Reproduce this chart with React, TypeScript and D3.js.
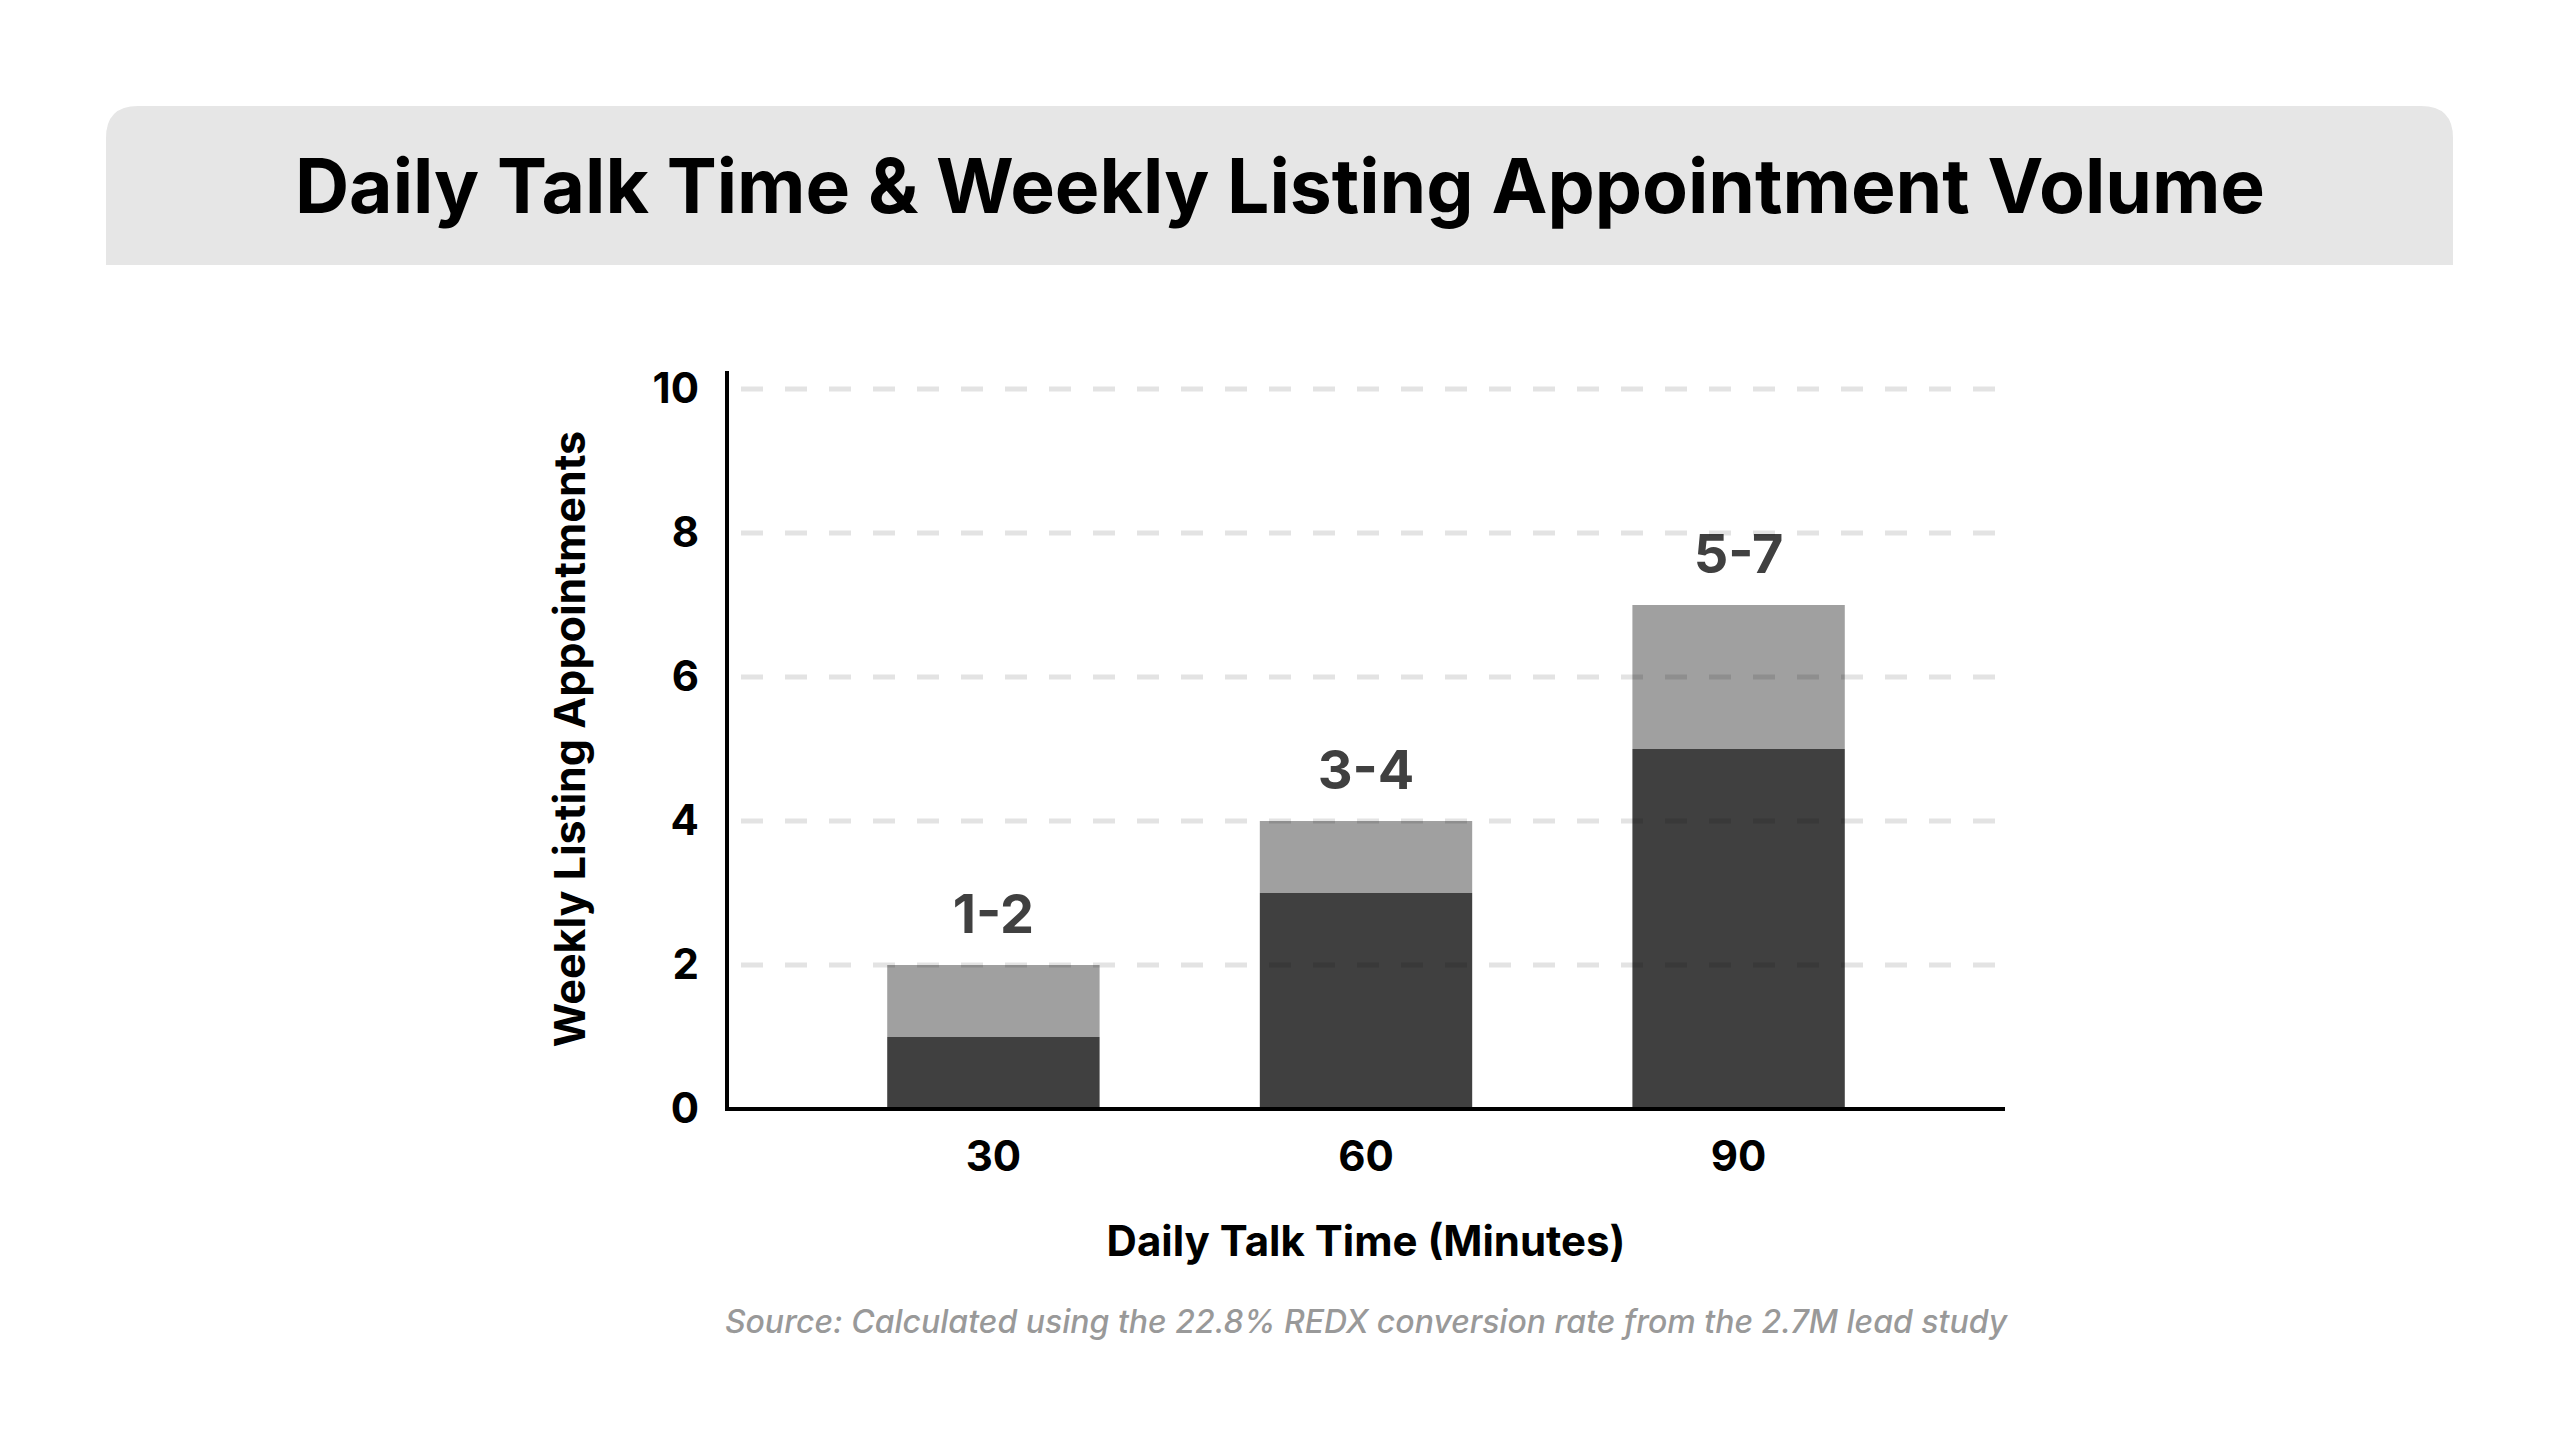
import * as d3 from "d3";
import React, { RefObject, useEffect, useRef } from "react";

const minutes = ["30", "60", "90"];
const lowValues = [1, 3, 5];
const extraValues = [1, 1, 2];
const rangeLabels = ["1-2", "3-4", "5-7"];
const yTicks = [0, 2, 4, 6, 8, 10];

const width = 2560;
const height = 1440;
const font = "Inter, 'Noto Sans', sans-serif";

const App = () => {
  const d3Ref: RefObject<HTMLDivElement> = useRef(null);

  const drawChart = () => {
    document.body.style.margin = "0";
    d3.select(d3Ref.current).selectAll("*").remove();
    const svg = d3
      .select(d3Ref.current)
      .append("svg")
      .attr("width", width)
      .attr("height", height)
      .style("display", "block")
      .style("background", "#ffffff");

    // title band, rounded top corners only
    const bx = 106, by = 106, bw = 2347, bh = 159, r = 32;
    svg
      .append("path")
      .attr(
        "d",
        `M${bx},${by + bh} V${by + r} Q${bx},${by} ${bx + r},${by} H${bx + bw - r} Q${bx + bw},${by} ${bx + bw},${by + r} V${by + bh} Z`
      )
      .attr("fill", "#e6e6e6");
    svg
      .append("text")
      .attr("x", width / 2)
      .attr("y", 213)
      .attr("text-anchor", "middle")
      .attr("font-family", font)
      .attr("font-weight", 700)
      .attr("font-size", 75)
      .attr("fill", "#000")
      .text("Daily Talk Time & Weekly Listing Appointment Volume");

    const left = 727, right = 2005, top = 389, bottom = 1109;
    const xScale = d3
      .scaleBand<string>()
      .domain(minutes)
      .range([left, right])
      .paddingInner(0.43)
      .paddingOuter(0.43);
    const yScale = d3.scaleLinear().domain([0, 10]).range([bottom, top]);

    const g = svg.append("g");

    // bars
    minutes.forEach((m, i) => {
      const x = xScale(m) as number;
      g.append("rect")
        .attr("x", x)
        .attr("width", xScale.bandwidth())
        .attr("y", yScale(lowValues[i]))
        .attr("height", yScale(0) - yScale(lowValues[i]))
        .attr("fill", "#404040");
      const total = lowValues[i] + extraValues[i];
      g.append("rect")
        .attr("x", x)
        .attr("width", xScale.bandwidth())
        .attr("y", yScale(total))
        .attr("height", yScale(lowValues[i]) - yScale(total))
        .attr("fill", "#a0a0a0");
      g.append("text")
        .attr("x", x + xScale.bandwidth() / 2)
        .attr("y", yScale(total) - 32)
        .attr("text-anchor", "middle")
        .attr("font-family", font)
        .attr("font-weight", 700)
        .attr("font-size", 54)
        .attr("fill", "#404040")
        .text(rangeLabels[i]);
    });

    // dashed grid over bars
    g.selectAll("line.grid")
      .data(yTicks.filter((t) => t > 0))
      .enter()
      .append("line")
      .attr("class", "grid")
      .attr("x1", left + 14)
      .attr("x2", right)
      .attr("y1", (d) => yScale(d))
      .attr("y2", (d) => yScale(d))
      .attr("stroke", "#000")
      .attr("stroke-opacity", 0.11)
      .attr("stroke-width", 5)
      .attr("stroke-dasharray", "22,22");

    // y axis
    const yAxis = g
      .append("g")
      .attr("transform", `translate(${left},0)`)
      .call(d3.axisLeft(yScale).tickValues(yTicks).tickSize(0).tickPadding(28));
    yAxis.select(".domain").remove();
    yAxis
      .selectAll("text")
      .attr("font-family", font)
      .attr("font-weight", 700)
      .attr("font-size", 42)
      .attr("fill", "#000");
    g.append("line")
      .attr("x1", left)
      .attr("x2", left)
      .attr("y1", top - 18)
      .attr("y2", bottom + 2)
      .attr("stroke", "#000")
      .attr("stroke-width", 4);

    // x axis
    const xAxis = g
      .append("g")
      .attr("transform", `translate(0,${bottom})`)
      .call(d3.axisBottom(xScale).tickSize(0).tickPadding(32));
    xAxis.select(".domain").remove();
    xAxis
      .selectAll("text")
      .attr("font-family", font)
      .attr("font-weight", 700)
      .attr("font-size", 42)
      .attr("fill", "#000");
    g.append("line")
      .attr("x1", left - 2)
      .attr("x2", right)
      .attr("y1", bottom)
      .attr("y2", bottom)
      .attr("stroke", "#000")
      .attr("stroke-width", 4);

    // axis titles
    svg
      .append("text")
      .attr("transform", `translate(585,${(top + bottom) / 2 - 10}) rotate(-90)`)
      .attr("text-anchor", "middle")
      .attr("font-family", font)
      .attr("font-weight", 700)
      .attr("font-size", 43)
      .attr("fill", "#000")
      .text("Weekly Listing Appointments");
    svg
      .append("text")
      .attr("x", (left + right) / 2)
      .attr("y", 1256)
      .attr("text-anchor", "middle")
      .attr("font-family", font)
      .attr("font-weight", 700)
      .attr("font-size", 42)
      .attr("fill", "#000")
      .text("Daily Talk Time (Minutes)");

    svg
      .append("text")
      .attr("x", (left + right) / 2)
      .attr("y", 1333)
      .attr("text-anchor", "middle")
      .attr("font-family", font)
      .attr("font-style", "italic")
      .attr("font-weight", 500)
      .attr("font-size", 32)
      .attr("fill", "#999999")
      .text("Source: Calculated using the 22.8% REDX conversion rate from the 2.7M lead study");
  };

  useEffect(() => {
    drawChart();
  }, [d3Ref]);

  return <div ref={d3Ref} />;
};

export default App;
